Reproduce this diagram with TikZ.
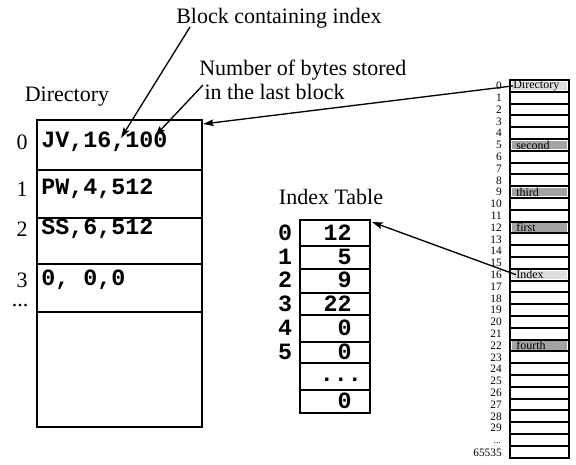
\documentclass[tikz,border=0pt]{standalone}
\usepackage{fontspec}
\setmainfont{Liberation Serif}
\setmonofont{Liberation Mono}
\usetikzlibrary{arrows.meta}
\tikzset{big/.style={font=\fontsize{16.5}{18}\selectfont},
 code/.style={font=\fontsize{17.5}{20}\selectfont\ttfamily\bfseries},
 tiny/.style={font=\fontsize{8.5}{9}\selectfont},
 ptr/.style={-{Stealth[length=8pt,width=5pt,inset=1.5pt]}, line width=1pt},
 box/.style={line width=1.2pt},
 }

\begin{document}
\begin{tikzpicture}[x=0.75pt, y=-0.75pt, inner sep=0pt]
        \useasboundingbox (0,0) rectangle (576,465);
        % labels on top
        \node[big, anchor=west] (blktxt) at (176,18) {Block containing index};
        \node[big, anchor=west, align=left] (numtxt) at (199,80) {Number of bytes stored\\\hspace*{4pt}in the last block};
        \node[big] (dirtxt) at (67,97) {Directory};
        \node[big] (idxtxt) at (331,197) {Index Table};
        % directory
        \draw[box] (37,120) rectangle (202,427);
        \foreach \y in {170, 218, 264, 312} {
            \draw[box] (37,\y) -- (202,\y);
        }
        \foreach \y/\txt[count=\i from 0] in {142/{JV,16,100}, 189/{PW,4,512}, 229/{SS,6,512}, 280/{0, 0,0}} {
            \node[big, anchor=east] (dl\i) at (28,\y) {\i};
            \node[code, anchor=west] (dr\i) at (41,\y) {\txt};
        }
        \node[big] (dldots) at (20,306) {...};
        % index table
        \draw[box] (300,220) rectangle (370,413);
        \foreach \y in {246, 269, 293, 315, 342, 363, 390} {
            \draw[box] (300,\y) -- (370,\y);
        }
        \foreach \y/\v[count=\i from 0] in {233/12, 257/5, 280/9, 304/22, 328/0, 352/0} {
            \node[code, anchor=east] (iv\i) at (352,\y) {\v};
            \node[code] (il\i) at (285,\y) {\i};
        }
        \node[code] (ivdots) at (341,380) {...};
        \node[code, anchor=east] (iv7) at (352,401) {0};
        % disk blocks
        \foreach \i in {0,...,31} {
            \draw[line width=1.4pt] (510,{80+11.8*\i}) rectangle (569,{91.8+11.8*\i});
        }
        \foreach \i in {0,...,29} {
            \node[tiny, anchor=east] (n\i) at (502,{85.9+11.8*\i}) {\i};
        }
        \node[font=\fontsize{7}{7}\selectfont, anchor=east] (ndots) at (501,443) {...};
        \node[tiny, anchor=east] (nlast) at (502,453) {65535};
        \foreach \i/\txt/\x/\col in {0/Directory/513/black!13, 5/second/516/black!36, 9/third/516/black!36,
            12/first/516/black!36, 16/Index/516/black!13, 22/fourth/516/black!36} {
            \fill[fill=\col] (512,{81.7+11.8*\i}) rectangle (567,{90.1+11.8*\i});
            \node[font=\fontsize{9}{9}\selectfont, anchor=west] (blk\i) at (\x,{85.9+11.8*\i}) {\txt};
        }
        % pointers
        \coordinate (blkfoot) at (190,27);
        \coordinate (numfoot) at (203,85);
        \coordinate (p16) at (121,138);
        \coordinate (p100) at (155,136);
        \coordinate (dircorner) at (203,124);
        \coordinate (idxcorner) at (372,222);
        \draw[ptr] (blkfoot) -- (p16);
        \draw[ptr] (numfoot) -- (p100);
        \draw[ptr] (blk0.west) -- (dircorner);
        \draw[ptr] (blk16.west) -- (idxcorner);
    \end{tikzpicture}
\end{document}
